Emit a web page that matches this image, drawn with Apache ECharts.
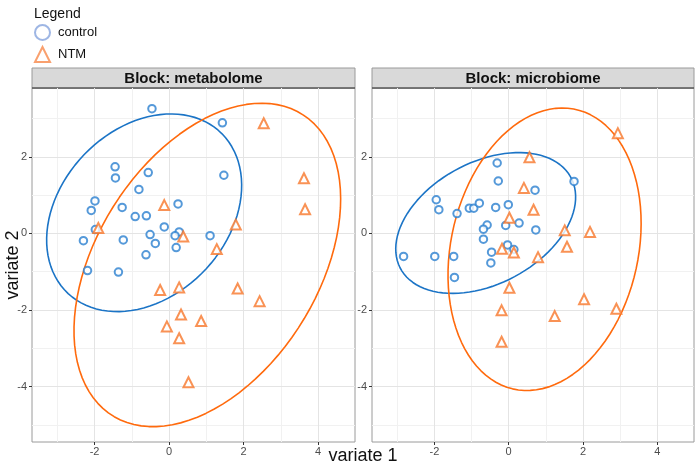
<!DOCTYPE html>
<html>
<head>
<meta charset="utf-8">
<script src="https://cdn.jsdelivr.net/npm/echarts@6/dist/echarts.min.js"></script>
<style>
  html, body { margin: 0; padding: 0; background: #fff; }
  #main { width: 696px; height: 465px; }
</style>
</head>
<body>
<div id="main"></div>
<script>
var blocks = ['Block: metabolome', 'Block: microbiome'];
var groups = ['control', 'NTM'];

// axis ticks, shared by both panels
var xRange = [-3.68, 4.99];
var yRange = [-5.45, 3.8];
var xTicks = [-2, 0, 2, 4];
var yTicks = [-4, -2, 0, 2];
var xMinor = [-3, -1, 1, 3];
var yMinor = [-5, -3, -1, 1, 3];

// block: metabolome, [variate 1, variate 2]
var metaControl = [
  [-0.46, 3.26], [1.43, 2.89], [-1.45, 1.74], [-1.44, 1.45], [-0.56, 1.59],
  [1.47, 1.52], [-0.81, 1.15], [-1.99, 0.85], [-2.09, 0.60], [-1.26, 0.68],
  [0.24, 0.77], [-0.91, 0.44], [-0.61, 0.46], [-0.13, 0.17], [-1.98, 0.10],
  [-2.30, -0.19], [-1.23, -0.17], [-0.51, -0.03], [0.27, 0.04], [0.16, -0.06],
  [1.10, -0.06], [-0.37, -0.26], [0.19, -0.37], [-0.62, -0.56], [-2.19, -0.97],
  [-1.36, -1.01]
];
var metaNTM = [
  [2.54, 2.88], [3.62, 1.44], [3.65, 0.63], [-0.13, 0.74], [-1.90, 0.14],
  [1.79, 0.23], [0.38, -0.08], [1.28, -0.41], [-0.24, -1.48], [0.27, -1.41],
  [1.84, -1.44], [2.43, -1.77], [0.32, -2.12], [0.86, -2.29], [-0.06, -2.43],
  [0.27, -2.74], [0.52, -3.89]
];

// block: microbiome
var microControl = [
  [-0.31, 1.84], [-0.28, 1.37], [1.76, 1.36], [0.71, 1.13], [-1.95, 0.88],
  [-1.88, 0.62], [-1.39, 0.52], [-1.06, 0.66], [-0.94, 0.66], [-0.79, 0.79],
  [-0.35, 0.68], [-0.01, 0.75], [0.28, 0.27], [-0.08, 0.21], [-0.58, 0.22],
  [-0.68, 0.11], [0.73, 0.09], [-0.68, -0.15], [-0.03, -0.30], [0.14, -0.42],
  [-0.46, -0.49], [-2.83, -0.60], [-1.99, -0.60], [-1.48, -0.60], [-0.48, -0.77],
  [-1.46, -1.15]
];
var microNTM = [
  [2.94, 2.62], [0.56, 1.99], [0.41, 1.19], [0.67, 0.62], [0.02, 0.41],
  [1.51, 0.08], [2.19, 0.04], [1.57, -0.35], [-0.18, -0.40], [0.14, -0.50],
  [0.79, -0.62], [0.02, -1.42], [2.03, -1.72], [2.90, -1.97], [-0.19, -2.01],
  [1.24, -2.16], [-0.19, -2.83]
];

var pointColors = ['#2A80D0', '#F8772A'];
var ellipseColors = ['#1B74C6', '#FF6A0D'];
var legendColors = ['#86A4DD', '#F7884A'];
var symbols = ['emptyCircle', 'emptyTriangle'];
var ellipseLevel = 0.95;

// 95% confidence ellipse of a group (same recipe as ellipse::ellipse on cov)
function confEllipse(pts, level) {
  var n = pts.length, mx = 0, my = 0;
  pts.forEach(function (p) { mx += p[0]; my += p[1]; });
  mx /= n; my /= n;
  var sxx = 0, syy = 0, sxy = 0;
  pts.forEach(function (p) {
    sxx += (p[0] - mx) * (p[0] - mx);
    syy += (p[1] - my) * (p[1] - my);
    sxy += (p[0] - mx) * (p[1] - my);
  });
  sxx /= n - 1; syy /= n - 1; sxy /= n - 1;
  var t = Math.sqrt(-2 * Math.log(1 - level)); // sqrt(qchisq(level, 2))
  var sx = Math.sqrt(sxx), sy = Math.sqrt(syy);
  var d = Math.acos(sxy / (sx * sy));
  var out = [];
  for (var i = 0; i < 100; i++) {
    var a = 2 * Math.PI * i / 99;
    out.push([t * sx * Math.cos(a + d / 2) + mx, t * sy * Math.cos(a - d / 2) + my]);
  }
  return out;
}

var panels = [[metaControl, metaNTM], [microControl, microNTM]];
var grids = [
  { left: 32, top: 88, width: 323, height: 354 },
  { left: 372, top: 88, width: 322, height: 354 }
];

var font = 'Liberation Sans, Arial, sans-serif';

function majorAxis(type, g) {
  var isX = type === 'x';
  return {
    type: 'value',
    gridIndex: g,
    min: isX ? xRange[0] : yRange[0],
    max: isX ? xRange[1] : yRange[1],
    axisLine: { show: false, onZero: false },
    axisTick: {
      show: true, length: 3, customValues: isX ? xTicks : yTicks,
      lineStyle: { color: '#333', width: 1 }
    },
    axisLabel: {
      customValues: isX ? xTicks : yTicks,
      fontSize: 11, color: '#4d4d4d', fontFamily: font, margin: isX ? 4 : 5
    },
    splitLine: { show: true, lineStyle: { color: '#e4e4e4', width: 1 } },
    z: 2
  };
}

function minorAxis(type, g) {
  var isX = type === 'x';
  return {
    type: 'value',
    gridIndex: g,
    min: isX ? xRange[0] : yRange[0],
    max: isX ? xRange[1] : yRange[1],
    axisLine: { show: false, onZero: false },
    axisTick: { show: false, customValues: isX ? xMinor : yMinor },
    axisLabel: { show: false },
    splitLine: { show: true, lineStyle: { color: '#f1f1f1', width: 1 } },
    z: 1
  };
}

var xAxes = [majorAxis('x', 0), majorAxis('x', 1), minorAxis('x', 0), minorAxis('x', 1)];
var yAxes = [majorAxis('y', 0), majorAxis('y', 1), minorAxis('y', 0), minorAxis('y', 1)];

var series = [];
panels.forEach(function (panel, g) {
  panel.forEach(function (pts, k) {
    series.push({
      name: groups[k] + ' ellipse',
      type: 'line',
      xAxisIndex: g,
      yAxisIndex: g,
      data: confEllipse(pts, ellipseLevel),
      showSymbol: false,
      silent: true,
      lineStyle: { color: ellipseColors[k], width: 1.6 },
      z: 3
    });
    series.push({
      name: groups[k],
      type: 'scatter',
      xAxisIndex: g,
      yAxisIndex: g,
      data: pts,
      symbol: symbols[k],
      symbolSize: k === 0 ? 7.5 : 10,
      itemStyle: { color: pointColors[k], borderColor: pointColors[k], borderWidth: 1.6 },
      silent: true,
      z: 4
    });
  });
});

// facet strips and shared axis titles
var graphics = [];
grids.forEach(function (g, i) {
  graphics.push({
    type: 'rect',
    shape: { x: g.left, y: 68, width: g.width, height: 20 },
    style: { fill: '#d9d9d9', stroke: '#9a9a9a', lineWidth: 1 }
  });
  graphics.push({
    type: 'line',
    shape: { x1: g.left, y1: 88, x2: g.left + g.width, y2: 88 },
    style: { stroke: '#333', lineWidth: 1.2 }
  });
  graphics.push({
    type: 'text',
    x: g.left + g.width / 2,
    y: 78.5,
    style: {
      text: blocks[i], fill: '#111', font: 'bold 15px ' + font,
      textAlign: 'center', textVerticalAlign: 'middle'
    }
  });
});
graphics.push({
  type: 'text', x: 363, y: 456,
  style: { text: 'variate 1', fill: '#111', font: '18px ' + font, textAlign: 'center', textVerticalAlign: 'middle' }
});
graphics.push({
  type: 'text', x: 13, y: 265, rotation: Math.PI / 2,
  style: { text: 'variate 2', fill: '#111', font: '18px ' + font, textAlign: 'center', textVerticalAlign: 'middle' }
});

var chart = echarts.init(document.getElementById('main'));
chart.setOption({
  animation: false,
  backgroundColor: '#fff',
  title: {
    text: 'Legend', left: 29, top: 2,
    textStyle: { fontSize: 14, fontWeight: 'normal', color: '#111', fontFamily: font }
  },
  legend: {
    orient: 'vertical',
    left: 29,
    top: 19,
    itemWidth: 15,
    itemHeight: 15,
    itemGap: 5,
    selectedMode: false,
    textStyle: { fontSize: 13, color: '#111', fontFamily: font, padding: [0, 0, 0, 3] },
    data: [
      { name: groups[0], icon: 'emptyCircle', itemStyle: { color: legendColors[0], borderColor: legendColors[0], borderWidth: 2.5 } },
      { name: groups[1], icon: 'emptyTriangle', itemStyle: { color: legendColors[1], borderColor: legendColors[1], borderWidth: 1.5 } }
    ]
  },
  grid: grids.map(function (g) {
    return {
      left: g.left, top: g.top, width: g.width, height: g.height,
      show: true, borderColor: '#9a9a9a', borderWidth: 1, backgroundColor: '#fff'
    };
  }),
  xAxis: xAxes,
  yAxis: yAxes,
  graphic: graphics,
  series: series
});
</script>
</body>
</html>
